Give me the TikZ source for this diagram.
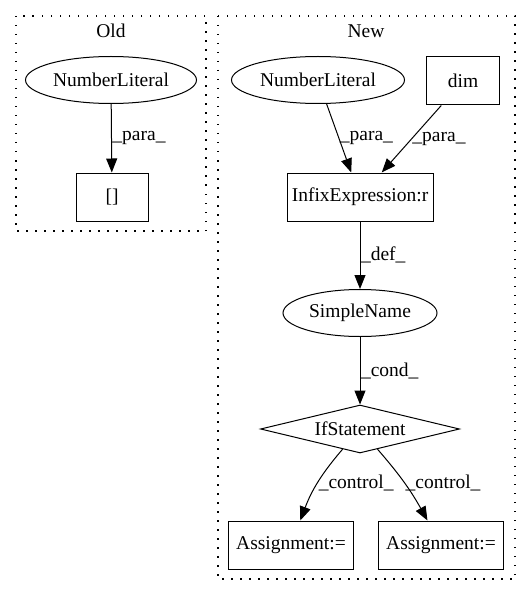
\documentclass[tikz,border=0pt]{standalone}
\usepackage{fontspec}
\setmainfont{Liberation Serif}
\usetikzlibrary{positioning,shapes.geometric,arrows.meta}

\begin{document}
\begin{tikzpicture}[x=1pt, y=-1pt, >={Triangle[length=14pt,width=11pt]},
  line width=1pt, font=\fontsize{19.5}{22}\selectfont,
  every box/.style={draw, rectangle, minimum height=48pt, inner sep=0pt},
  every oval/.style={draw, ellipse, minimum height=47pt, inner sep=0pt},
  every test/.style={draw, diamond, aspect=4, minimum width=199pt, minimum height=48pt, inner sep=0pt},
  every cluster/.style={draw, line width=1.3pt, dash pattern=on 1.5pt off 7.5pt},
  elabel/.style={right, inner sep=0.5pt}]

\useasboundingbox (0,0) rectangle (531,596);

\draw [every cluster/.try] (16,16) rectangle (206,231);
\draw [every cluster/.try] (218,16) rectangle (515,579);

\foreach \l/\x in {Old/111, New/366}
  \node (title-\l) at (\x,31) {\l};

\node [every oval/.try, minimum width=171pt] (old-literal) at (111,80) {NumberLiteral};
\node [every box/.try, minimum width=72pt] (old-index) at (112,197) {[]};

\node [every oval/.try, minimum width=173pt] (new-literal) at (318,80) {NumberLiteral};
\node [every box/.try, minimum width=73pt] (dim) at (463,81) {dim};
\node [every box/.try, minimum width=146pt] (infix) at (360,197) {InfixExpression:r};
\node [every oval/.try, minimum width=154pt] (name) at (360,313) {SimpleName};
\node [every test/.try] (if) at (360,429) {IfStatement};

\foreach \x [count=\i] in {291,441}
  \node [every box/.try, minimum width=125pt] (assign-\i) at (\x,545) {Assignment:=};



\draw [->] (old-literal) -- (old-index)
  node [elabel, midway] {\_para\_};

\foreach \m in {new-literal, dim}
  \draw [->] (\m) -- (infix)
    node [elabel, midway] {\_para\_};

\draw [->] (infix) -- (name)
  node [elabel, midway] {\_def\_};

\draw [->] (name) -- (if)
  node [elabel, midway] {\_cond\_};

\draw [->] (if) to [bend right=10] node [elabel] {\_control\_} (assign-1);
\draw [->] (if) to [bend left=6] node [elabel] {\_control\_} (assign-2);
\end{tikzpicture}
\end{document}
